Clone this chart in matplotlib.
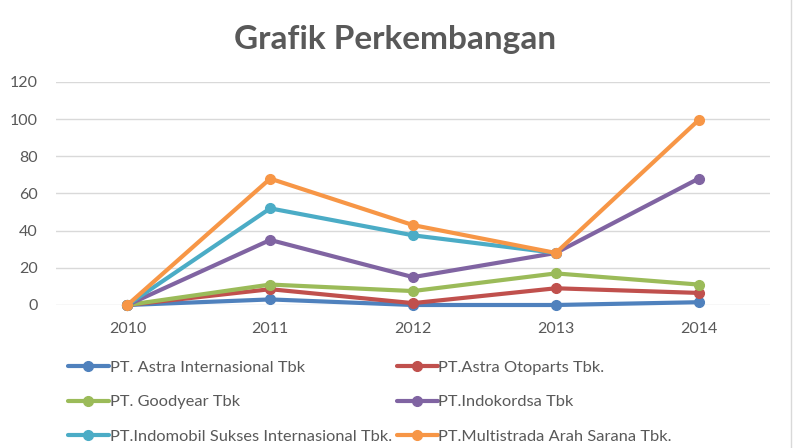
import numpy as np
import matplotlib.pyplot as plt

# data
years = ["2010", "2011", "2012", "2013", "2014"]

astra_int = [0, 3, 0, 0, 1.5]
astra_oto = [0, 8.5, 1, 9, 6.5]
goodyear = [0, 11, 7.5, 17, 11]
indokordsa = [0, 35, 15, 28, 68]
indomobil = [0, 52, 37.5, 28, np.nan]
multistrada = [0, 68, 43, 28, 99.5]

names = [
    "PT. Astra Internasional Tbk",
    "PT.Astra Otoparts Tbk.",
    "PT. Goodyear Tbk",
    "PT.Indokordsa Tbk",
    "PT.Indomobil Sukses Internasional Tbk.",
    "PT.Multistrada Arah Sarana Tbk.",
]
series = [astra_int, astra_oto, goodyear, indokordsa, indomobil, multistrada]
colors = ["#4f81bd", "#c0504d", "#9bbb59", "#8064a2", "#4bacc6", "#f79646"]

plt.rcParams["font.family"] = ["Lato", "DejaVu Sans"]

fig = plt.figure(figsize=(7.93, 4.48), dpi=100)
ax = fig.add_axes([56 / 793, 1 - 305 / 448, (770 - 56) / 793, (305 - 82) / 448])

x = np.arange(len(years))
handles = []
for vals, name, c in zip(series, names, colors):
    h, = ax.plot(x, vals, color=c, lw=3, marker="o", markersize=7,
                 label=name, solid_capstyle="round", clip_on=False)
    handles.append(h)

ax.set_xlim(-0.5, 4.5)
ax.set_ylim(0, 120)
ax.set_yticks(range(0, 121, 20))
ax.set_xticks(x)
ax.set_xticklabels(years)
ax.grid(True, axis="y", color="#d9d9d9", lw=1)
ax.set_axisbelow(True)
for s in ax.spines.values():
    s.set_visible(False)
ax.tick_params(length=0, colors="#595959", labelsize=11.5)
ax.tick_params(axis="y", pad=13)
ax.tick_params(axis="x", pad=12)

fig.text(395 / 793, 1 - 39 / 448, "Grafik Perkembangan", ha="center", va="center",
         fontsize=24, fontweight="bold", color="#595959")

# legend, filled row by row
order = [0, 2, 4, 1, 3, 5]
leg = fig.legend([handles[i] for i in order], [names[i] for i in order],
                 ncol=2, loc="upper left", bbox_to_anchor=(53 / 793, 1 - 346 / 448),
                 frameon=False, fontsize=11.8, handlelength=2.5, handletextpad=0.05,
                 columnspacing=0.3, labelspacing=1.2, labelcolor="#595959")

# outer border on the right
fig.add_artist(plt.Line2D([791 / 793, 791 / 793], [0, 1], color="#d9d9d9", lw=1))

fig.savefig("out.png", dpi=100)
